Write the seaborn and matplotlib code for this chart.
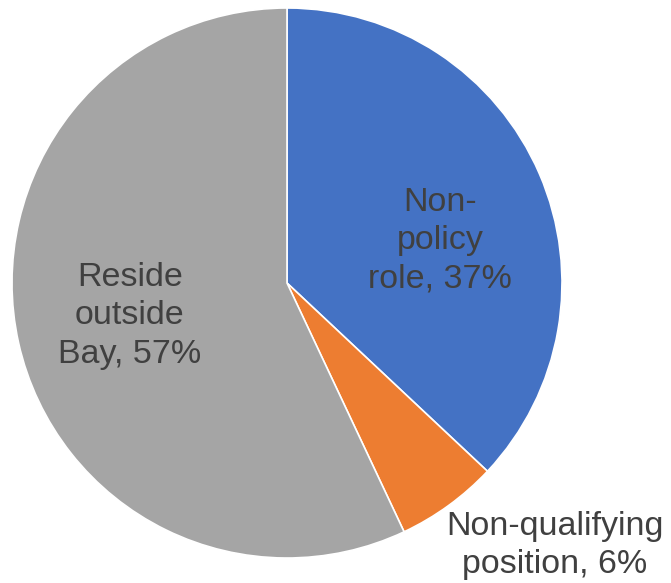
import matplotlib
matplotlib.use("Agg")
import matplotlib.pyplot as plt
import seaborn as sns

categories = ["Non-policy role", "Non-qualifying position", "Reside outside Bay"]
values = [37, 6, 57]
label_texts = ["Non-\npolicy\nrole, 37%", "Non-qualifying\nposition, 6%", "Reside\noutside\nBay, 57%"]
colors = ["#4472C4", "#ED7D31", "#A5A5A5"]

sns.set_style("white")
plt.rcParams['font.family'] = ['Liberation Sans', 'DejaVu Sans']

fig = plt.figure(figsize=(6.71, 5.83), dpi=100)
ax = fig.add_axes([12/671, 25/583, 550/671, 550/583])
wedges, _ = ax.pie(values, colors=colors, startangle=90, counterclock=False,
                   wedgeprops=dict(edgecolor="white", linewidth=1.2))
ax.set_xlim(-1, 1)
ax.set_ylim(-1, 1)
ax.set_aspect("equal")
ax.axis("off")

label_pos = [(0.556, 0.155), (0.975, -0.955), (-0.571, -0.12)]
for txt, (x, y) in zip(label_texts, label_pos):
    ax.text(x, y, txt, ha="center", va="center", fontsize=24.5, color="#404040",
            linespacing=1.3, clip_on=False)

fig.savefig("out.png", dpi=100)
